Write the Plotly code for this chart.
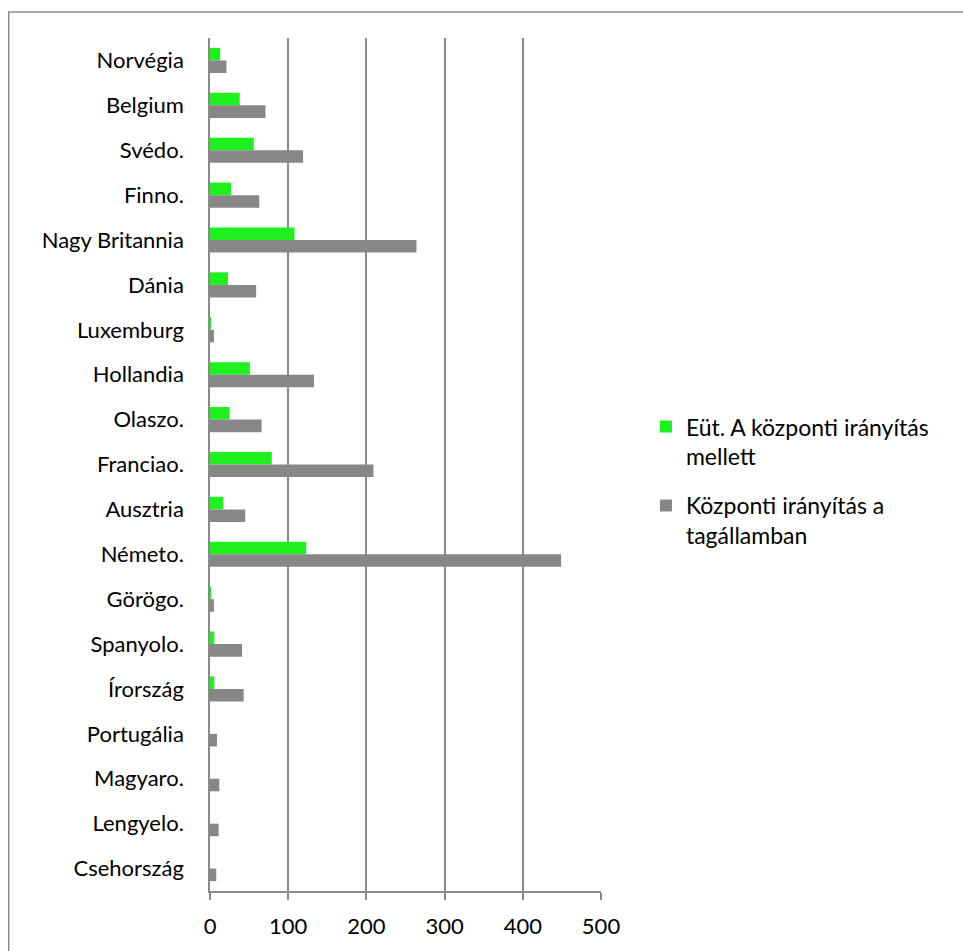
import plotly.graph_objects as go

# Countries, listed top to bottom as drawn
countries = ["Norvégia", "Belgium", "Svédo.", "Finno.", "Nagy Britannia", "Dánia",
             "Luxemburg", "Hollandia", "Olaszo.", "Franciao.", "Ausztria", "Németo.",
             "Görögo.", "Spanyolo.", "Írország", "Portugália", "Magyaro.", "Lengyelo.",
             "Csehország"]

# Series values
eut_kozponti = [13, 38, 56, 27, 108, 23, 1, 51, 25, 79, 17, 123, 0.3, 5.5, 5.5, 0, 0, 0, 0]
kozponti_tagallam = [21, 71, 119, 63, 264, 59, 5, 133, 66, 209, 45, 449, 5, 41, 43, 9, 12, 11, 8]

series_names = ["Eüt. A központi irányítás<br>mellett", "Központi irányítás a<br>tagállamban"]
tick_vals = [0, 100, 200, 300, 400, 500]

GREEN = "#1ff11f"
GRAY = "#878787"
AXIS = "#8a8a8a"
FONT = "Lato"

fig = go.Figure()
fig.add_trace(go.Bar(y=countries, x=eut_kozponti, orientation="h", name=series_names[0],
                     legendgroup="eut", marker=dict(color=GREEN, line=dict(width=0))))
fig.add_trace(go.Bar(y=countries, x=kozponti_tagallam, orientation="h", name=series_names[1],
                     legendgroup="tag", marker=dict(color=GRAY, line=dict(width=0))))

W, H = 963, 951
L, R, T, B = 209.5, 362, 38, 58
pw, ph = W - L - R, H - T - B

def px(x):
    return (x - L) / pw

def py(y):
    return (H - B - y) / ph

# Outer frame around the chart area (open to the right and bottom)
fig.add_shape(type="rect", xref="paper", yref="paper",
              x0=px(8), x1=px(1000), y0=py(1000), y1=py(12),
              line=dict(color="#8c8c8c", width=1.5), fillcolor="rgba(0,0,0,0)", layer="below")

fig.update_layout(
    width=W, height=H,
    margin=dict(l=L, r=R, t=T, b=B, pad=0),
    paper_bgcolor="white", plot_bgcolor="white",
    barmode="group", bargap=0.44, bargroupgap=0,
    font=dict(family=FONT, size=22, color="#000000"),
    showlegend=True,
    legend=dict(x=px(646), y=py(406), xanchor="left", yanchor="top",
                font=dict(family=FONT, size=23, color="#000000"),
                valign="top", itemsizing="constant", tracegroupgap=16, traceorder="grouped",
                bgcolor="rgba(0,0,0,0)"),
    xaxis=dict(range=[0, 500], tickvals=tick_vals, ticktext=[str(v) for v in tick_vals],
               showgrid=True, gridcolor=AXIS, gridwidth=1.5,
               showline=True, linecolor=AXIS, linewidth=1.5,
               ticks="outside", ticklen=7, tickcolor=AXIS, tickwidth=1.5,
               ticklabelstandoff=8,
               zeroline=False, tickfont=dict(size=22), fixedrange=True),
    yaxis=dict(autorange="reversed", showgrid=False, showline=True,
               linecolor=AXIS, linewidth=1.5, ticks="", ticklabelstandoff=20,
               tickfont=dict(size=22), fixedrange=True),
)

fig.write_html("out.html")
